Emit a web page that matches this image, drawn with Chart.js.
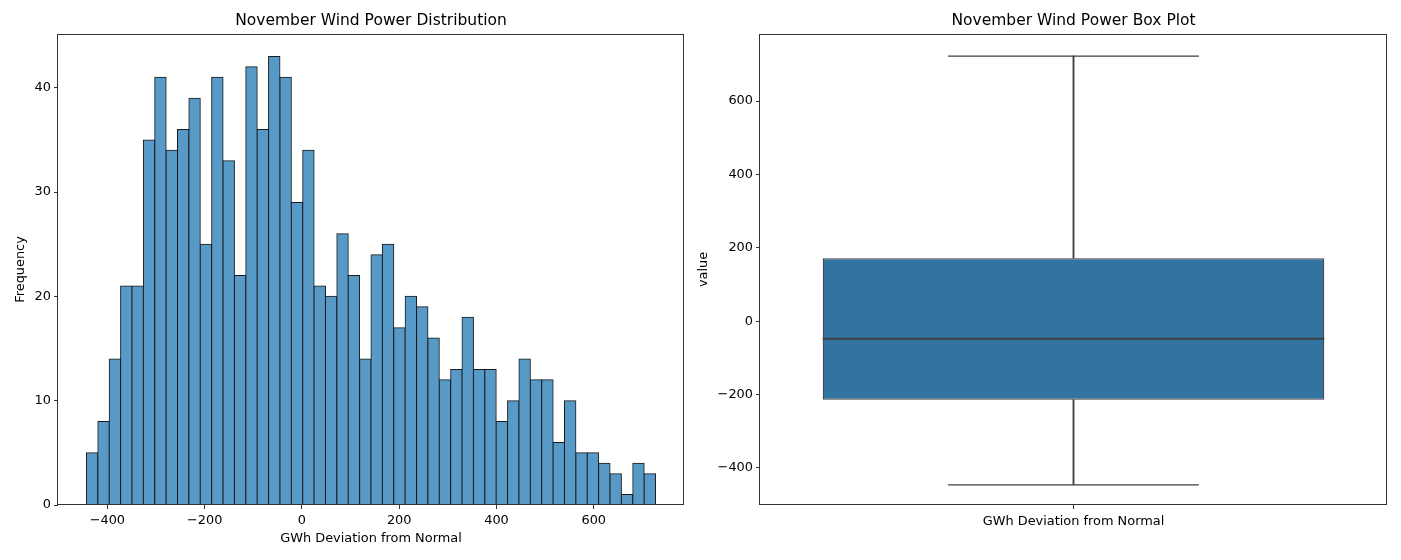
<!DOCTYPE html>
<html><head><meta charset="utf-8">
<script src="https://cdn.jsdelivr.net/npm/chart.js@4/dist/chart.umd.min.js"></script>
<style>
html,body{margin:0;padding:0;background:#fff;}
#w{position:relative;width:1401px;height:560px;overflow:hidden;background:#fff}
.c{position:absolute;top:0;height:560px}
#c1{left:0;width:700px}
#c2{left:690px;width:711px}
</style></head><body>
<div id="w"><div class="c" id="c1"><canvas id="h" width="700" height="560"></canvas></div><div class="c" id="c2"><canvas id="b" width="711" height="560"></canvas></div></div>
<script>
// ---- data ----
const binStart = -443;
const binWidth = 23.4;
const counts = [5,8,14,21,21,35,41,34,36,39,25,41,33,22,42,36,43,41,29,34,21,20,26,22,14,24,25,17,20,19,16,12,13,18,13,13,8,10,14,12,12,6,10,5,5,4,3,1,4,3];
const histXTicks = [-400,-200,0,200,400,600];
const histXTickLabels = ['\u2212400','\u2212200','0','200','400','600'];
const histYTicks = [0,10,20,30,40];
const histYTickLabels = ['0','10','20','30','40'];
const boxCategories = ['GWh Deviation from Normal'];
const whiskerLow = [-446];
const q1 = [-214];
const median = [-48];
const q3 = [172];
const whiskerHigh = [723];
const boxYTicks = [-400,-200,0,200,400,600];
const boxYTickLabels = ['\u2212400','\u2212200','0','200','400','600'];

const FONT = 'DejaVu Sans';
Chart.defaults.color = '#000';
Chart.defaults.font.family = FONT;
Chart.defaults.font.size = 12.9;
Chart.defaults.animation = false;

const frame = {
  id: 'frame',
  afterDraw(chart) {
    const {ctx, chartArea: a} = chart;
    ctx.save();
    ctx.strokeStyle = '#333';
    ctx.lineWidth = 1;
    ctx.strokeRect(Math.round(a.left) - 0.5, Math.round(a.top) + 0.5, Math.round(a.right) - Math.round(a.left), Math.round(a.bottom) - Math.round(a.top) - 1);
    ctx.restore();
  }
};

const tickGrid = {display: true, drawOnChartArea: false, drawTicks: true, tickLength: 4, color: '#333', offset: false};
const titleFont = {family: FONT, size: 15.5, weight: 'normal'};
const labelFont = {family: FONT, size: 12.9};

const histData = counts.map((c, i) => ({x: binStart + (i + 0.5) * binWidth, y: c}));

new Chart(document.getElementById('h'), {
  type: 'bar',
  data: {
    datasets: [{
      data: histData,
      backgroundColor: 'rgb(87,153,199)',
      borderColor: '#1a1a1a',
      borderWidth: 1,
      inflateAmount: 0.5,
      barPercentage: 1,
      categoryPercentage: 1
    }]
  },
  options: {
    responsive: false,
    layout: {autoPadding: false, padding: {left: 0, right: 16, top: 0, bottom: 0}},
    plugins: {
      legend: {display: false},
      tooltip: {enabled: false},
      title: {display: true, fullSize: false, text: 'November Wind Power Distribution', font: titleFont, color: '#000', padding: {top: 12, bottom: 3.4}}
    },
    scales: {
      x: {
        type: 'linear', min: -501.5, max: 785.5, offset: false,
        grid: tickGrid, border: {display: false},
        afterBuildTicks: ax => { ax.ticks = histXTicks.map(v => ({value: v})); },
        afterFit: ax => { ax.height = 55; },
        ticks: {autoSkip: false, maxRotation: 0, padding: 4, font: labelFont, callback: (v, i) => histXTickLabels[i]},
        title: {display: true, text: 'GWh Deviation from Normal', font: labelFont, color: '#000', padding: {top: 0, bottom: 13.6}}
      },
      y: {
        type: 'linear', min: 0, max: 45.15,
        grid: tickGrid, border: {display: false},
        afterBuildTicks: ax => { ax.ticks = histYTicks.map(v => ({value: v})); },
        afterFit: ax => { ax.width = 58; },
        ticks: {autoSkip: false, padding: 3, font: labelFont, callback: (v, i) => histYTickLabels[i]},
        title: {display: true, text: 'Frequency', font: labelFont, color: '#000', padding: {top: 13.3, bottom: 0}}
      }
    }
  },
  plugins: [frame]
});

const lineCol = '#3f3f3f';
const areaW = (c, f, d) => (c.chart.chartArea ? c.chart.chartArea.width * f : d);
new Chart(document.getElementById('b'), {
  type: 'bar',
  data: {
    labels: boxCategories,
    datasets: [
      {data: [[q3[0], whiskerHigh[0]]], backgroundColor: lineCol, borderWidth: 0, barThickness: 1.2, grouped: false, order: 3},
      {data: [[whiskerLow[0], q1[0]]], backgroundColor: lineCol, borderWidth: 0, barThickness: 1.2, grouped: false, order: 3},
      {data: [[q1[0], q3[0]]], backgroundColor: '#3274a1', borderColor: lineCol, borderWidth: 1.25, borderSkipped: false,
       barPercentage: 0.8, categoryPercentage: 1, grouped: false, order: 2},
      {type: 'line', data: [median[0]], showLine: false, pointStyle: 'line', order: 1, clip: false,
       pointRadius: c => areaW(c, 0.4, 250), pointHoverRadius: c => areaW(c, 0.4, 250),
       pointBorderWidth: 2, pointBorderColor: lineCol, borderColor: lineCol},
      {type: 'line', data: [whiskerHigh[0]], showLine: false, pointStyle: 'line', order: 1, clip: false,
       pointRadius: c => areaW(c, 0.2, 125), pointHoverRadius: c => areaW(c, 0.2, 125),
       pointBorderWidth: 1.25, pointBorderColor: lineCol, borderColor: lineCol},
      {type: 'line', data: [whiskerLow[0]], showLine: false, pointStyle: 'line', order: 1, clip: false,
       pointRadius: c => areaW(c, 0.2, 125), pointHoverRadius: c => areaW(c, 0.2, 125),
       pointBorderWidth: 1.25, pointBorderColor: lineCol, borderColor: lineCol}
    ]
  },
  options: {
    responsive: false,
    layout: {autoPadding: false, padding: {left: 0, right: 14, top: 0, bottom: 0}},
    plugins: {
      legend: {display: false},
      tooltip: {enabled: false},
      title: {display: true, fullSize: false, text: 'November Wind Power Box Plot', font: titleFont, color: '#000', padding: {top: 12, bottom: 3.4}}
    },
    scales: {
      x: {
        type: 'category', offset: true,
        grid: tickGrid, border: {display: false},
        afterFit: ax => { ax.height = 55; },
        ticks: {autoSkip: false, maxRotation: 0, padding: 5, font: labelFont}
      },
      y: {
        type: 'linear', min: -501, max: 783,
        grid: tickGrid, border: {display: false},
        afterBuildTicks: ax => { ax.ticks = boxYTicks.map(v => ({value: v})); },
        afterFit: ax => { ax.width = 70; },
        ticks: {autoSkip: false, padding: 3, font: labelFont, callback: (v, i) => boxYTickLabels[i]},
        title: {display: true, text: 'value', font: labelFont, color: '#000', padding: {top: 6.3, bottom: 0}}
      }
    }
  },
  plugins: [frame]
});
</script>
</body></html>
